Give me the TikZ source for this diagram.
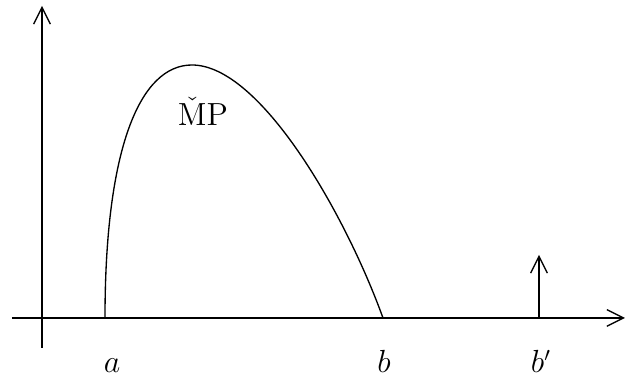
\documentclass[tikz,border=0pt]{standalone}
\usetikzlibrary{positioning, arrows.meta}

\begin{document}
\begin{tikzpicture}[
        x=0.45pt, y=0.45pt,
        axis/.style={-{Straight Barb[length=7.5pt, width=7.5pt]}, semithick},
        lbl/.style={font=\fontsize{13.5}{16}\selectfont, inner sep=1pt}
      ]
        \useasboundingbox (0,0) rectangle (626,378);
        % axes
        \coordinate (xs) at (12,60);
        \coordinate (xe) at (625,60);
        \coordinate (ys) at (42,30);
        \coordinate (ye) at (42,372);
        \draw[axis] (xs)--(xe);
        \draw[axis] (ys)--(ye);
        % curve
        \coordinate (a) at (105,60);
        \coordinate (top) at (192,313);
        \coordinate (b) at (383,60);
        \draw[semithick] (a) .. controls (105,230) and (140,313) .. (top)
                             .. controls (260,313) and (345,165) .. (b);
        \node[lbl] (mp) at (203,267) {$\check{\mathrm{M}}\mathrm{P}$};
        % small arrow
        \coordinate (bp) at (539,60);
        \coordinate (bpt) at (539,123);
        \draw[axis] (bp)--(bpt);
        % labels
        \node[lbl, anchor=base] (la) at (112,5) {$a$};
        \node[lbl, anchor=base] (lb) at (384,5) {$b$};
        \node[lbl, anchor=base] (lbp) at (541,5) {$b'$};
      \end{tikzpicture}
\end{document}
